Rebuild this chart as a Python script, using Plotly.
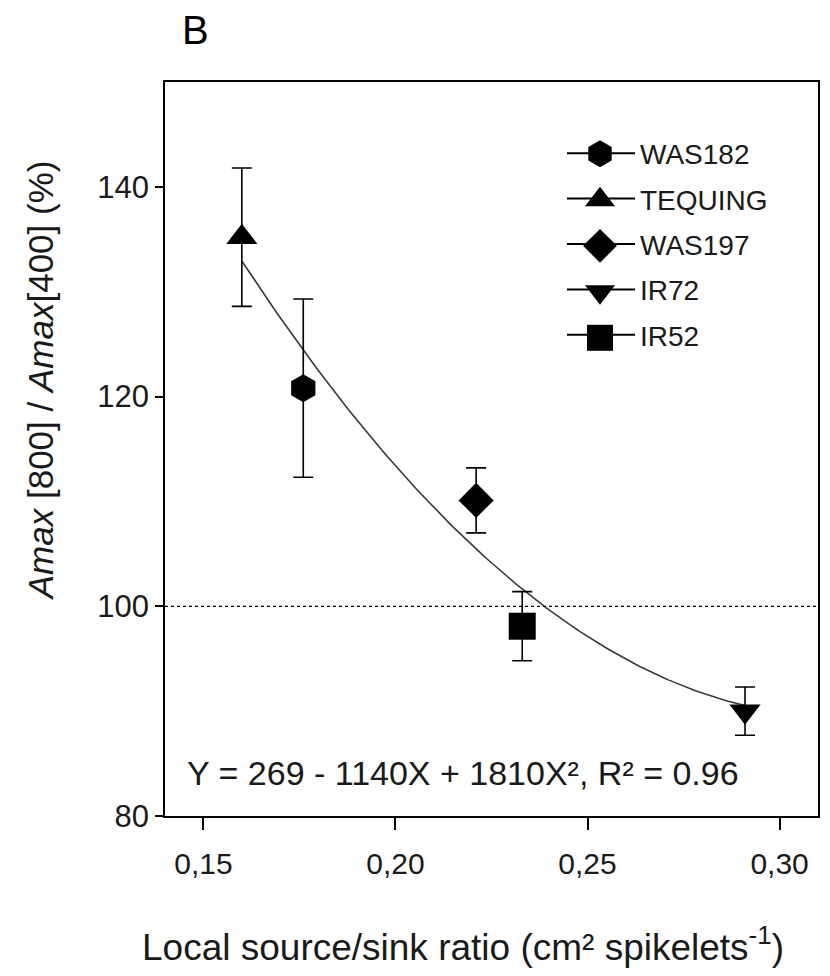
import numpy as np
import plotly.graph_objects as go

cultivars = ["WAS182", "TEQUING", "WAS197", "IR72", "IR52"]
source_sink = [0.176, 0.160, 0.221, 0.291, 0.233]
amax_ratio = [120.8, 135.2, 110.1, 90.0, 98.1]
amax_err = [8.5, 6.6, 3.1, 2.3, 3.3]
symbols = ["hexagon", "triangle-up", "diamond", "triangle-down", "square"]
marker_sizes = [28, 27, 27, 27, 27]
fit_coeffs = [1810, -1140, 269]  # Y = 269 - 1140X + 1810X^2
fit_x_range = [0.160, 0.291]
x_ticks = [0.15, 0.20, 0.25, 0.30]
y_ticks = [80, 100, 120, 140]

FONT = "Liberation Sans, Arial, sans-serif"
TXT = "#1a1a1a"

# page body has an 8px margin: plot area lands at x 165..818, y 82..808
W, H = 822, 968
L, R, T, B = 157, 12, 74, 160
PX0, PY0, PW, PH = 165, 82, 653, 726


def px(sx):
    return (sx - PX0) / PW


def py(sy):
    return 1 - (sy - PY0) / PH


fig = go.Figure()

fx = np.linspace(fit_x_range[0], fit_x_range[1], 120)
fy = np.polyval(fit_coeffs, fx)
fig.add_trace(go.Scatter(x=fx, y=fy, mode="lines", line=dict(color="#3a3a3a", width=1.6),
                         showlegend=False, hoverinfo="skip"))

LEG_X0 = 562
LEG_TOP = 128
LEG_ROW0 = 153
LEG_STEP = 45.5
LEG_MX = 600

for i, (name, x, y, e, s, ms) in enumerate(zip(cultivars, source_sink, amax_ratio, amax_err, symbols, marker_sizes)):
    fig.add_trace(go.Scatter(
        x=[x], y=[y], mode="markers", name=name, showlegend=False,
        marker=dict(symbol=s, size=ms, color="black"),
        error_y=dict(type="data", array=[e], visible=True, color="black", thickness=1.6, width=10),
    ))
    # legend entry (line + label)
    fig.add_trace(go.Scatter(
        x=[None], y=[None], mode="lines", name=name, legendgroup=name,
        line=dict(color="black", width=2),
    ))
    # full-size legend symbol drawn on an overlay axis at the legend row
    fig.add_trace(go.Scatter(
        x=[px(LEG_MX)], y=[py(LEG_ROW0 + i * LEG_STEP)], xaxis="x2", yaxis="y2",
        mode="markers", showlegend=False, hoverinfo="skip",
        marker=dict(symbol=s, size=ms - 1, color="black"),
    ))

fig.add_hline(y=100, line=dict(color="black", width=1.3, dash="dot"))

fig.add_annotation(x=px(185), y=py(765), xref="paper", yref="paper", xanchor="left", yanchor="middle",
                   text="Y = 269 - 1140X + 1810X², R² = 0.96", showarrow=False,
                   font=dict(size=34, color=TXT, family=FONT))
fig.add_annotation(x=px(195), y=py(31), xref="paper", yref="paper", xanchor="center", yanchor="middle",
                   text="B", showarrow=False, font=dict(size=40, color="black", family=FONT))
fig.add_annotation(x=px(463), y=py(935), xref="paper", yref="paper", xanchor="center", yanchor="middle",
                   text="Local source/sink ratio (cm² spikelets<sup>-1</sup>)", showarrow=False,
                   font=dict(size=37, color=TXT, family=FONT))
fig.add_annotation(x=px(40), y=py(377), xref="paper", yref="paper", xanchor="center", yanchor="middle",
                   textangle=-90, text="<i>Amax</i> [800] / <i>Amax</i>[400] (%)", showarrow=False,
                   font=dict(size=35, color=TXT, family=FONT))

fig.update_layout(
    width=W, height=H,
    margin=dict(l=L, r=R, t=T, b=B, autoexpand=False),
    paper_bgcolor="white", plot_bgcolor="white",
    separators=",.",
    font=dict(family=FONT, color=TXT, size=30),
    legend=dict(x=px(LEG_X0), y=py(LEG_TOP), xanchor="left", yanchor="top",
                font=dict(size=28, family=FONT, color=TXT),
                bgcolor="rgba(0,0,0,0)", tracegroupgap=6, itemwidth=68),
    xaxis=dict(range=[0.14, 0.31], tickvals=x_ticks, tickformat=".2f",
               ticks="outside", ticklen=12, tickwidth=1.5, tickcolor="black",
               tickfont=dict(size=30), ticklabelstandoff=8,
               showline=True, linecolor="black", linewidth=1.5, mirror=True,
               showgrid=False, zeroline=False),
    yaxis=dict(range=[80, 150], tickvals=y_ticks,
               ticks="outside", ticklen=8, tickwidth=1.5, tickcolor="black",
               tickfont=dict(size=31),
               showline=True, linecolor="black", linewidth=1.5, mirror=True,
               showgrid=False, zeroline=False),
    xaxis2=dict(overlaying="x", range=[0, 1], visible=False, fixedrange=True),
    yaxis2=dict(overlaying="y", range=[0, 1], visible=False, fixedrange=True),
)

fig.write_html("out.html")
